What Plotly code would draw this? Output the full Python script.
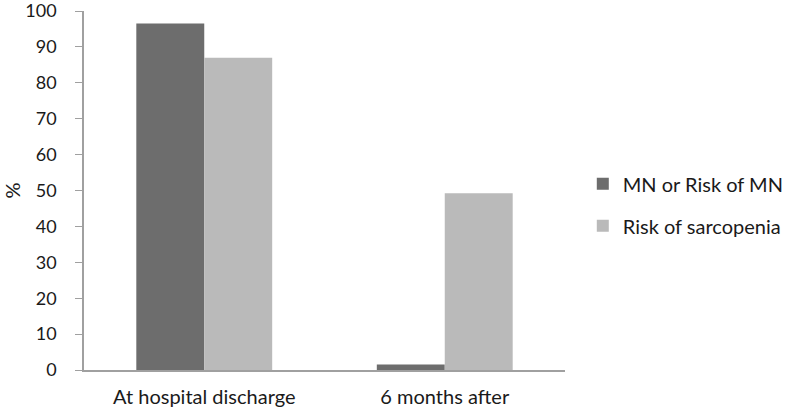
import plotly.graph_objects as go

categories = ["At hospital discharge", "6 months after"]
mn_risk = [96.5, 1.5]
sarcopenia = [87.0, 49.2]
series_names = ["MN or Risk of MN", "Risk of sarcopenia"]
colors = ["#6d6d6d", "#bababa"]
y_ticks = [0, 10, 20, 30, 40, 50, 60, 70, 80, 90, 100]

font_family = "Lato, 'Open Sans', sans-serif"

fig = go.Figure()
for name, vals, col, grp in [(series_names[0], mn_risk, colors[0], "a"),
                             (series_names[1], sarcopenia, colors[1], "b")]:
    fig.add_trace(go.Bar(x=categories, y=vals, name=name, marker=dict(color=col, line=dict(width=0)),
                         legendgroup=grp, hoverinfo="skip"))

fig.update_layout(
    width=787, height=411,
    margin=dict(l=84, r=222, t=11, b=41, autoexpand=False),
    paper_bgcolor="white", plot_bgcolor="white",
    barmode="group", bargap=0.435, bargroupgap=0,
    font=dict(family=font_family, size=20, color="#1a1a1a"),
    showlegend=True,
    legend=dict(x=1.037, y=0.46, xanchor="left", yanchor="middle",
                traceorder="grouped", tracegroupgap=13,
                font=dict(size=20), itemwidth=30),
    xaxis=dict(showline=True, linecolor="#a0a0a0", linewidth=1.5, ticks="",
               tickfont=dict(size=20), ticklabelstandoff=8, automargin=False),
    yaxis=dict(range=[0, 100], tickvals=y_ticks, showgrid=False, zeroline=False,
               showline=True, linecolor="#a0a0a0", linewidth=1.5,
               ticks="outside", ticklen=7, tickcolor="#a0a0a0",
               ticklabelstandoff=15, automargin=False, ticklabeloverflow="allow",
               title=dict(text="%", font=dict(size=20), standoff=26),
               tickfont=dict(size=18)),
)

fig.write_html("out.html", config={"displayModeBar": False},
               post_script="document.body.style.margin='0';")
